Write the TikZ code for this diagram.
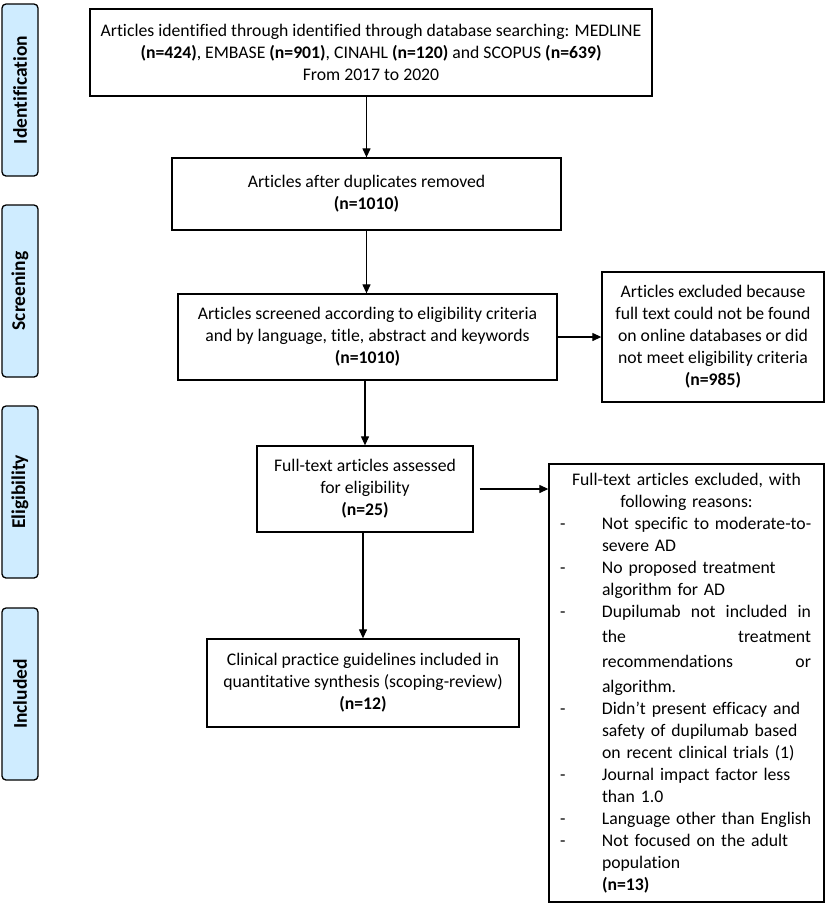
\documentclass[tikz,border=0pt]{standalone}
\usepackage{fontspec}
\setmainfont{Carlito}[Ligatures=NoCommon]
\usetikzlibrary{arrows.meta}
\definecolor{phaseblue}{RGB}{207,236,255}
\newcommand{\xitem}[1]{\par\hangindent=44pt\hangafter=1\noindent\makebox[44pt][l]{\hspace{2pt}-}#1}
\newcommand{\nlx}{\vadjust{\vskip3pt}\hfil\break}
\begin{document}
\begin{tikzpicture}[x=1pt,y=-1pt,
  basebox/.style={draw=black, line width=1.3pt, fill=white, inner sep=0pt,
    font=\fontsize{17.7}{22}\selectfont},
  box/.style={basebox, align=center},
  phase/.style={draw=black, line width=1.3pt, rounded corners=4pt, fill=phaseblue,
    minimum width=172pt, minimum height=36pt, rotate=90, inner sep=0pt,
    font=\bfseries\fontsize{19.5}{22}\selectfont},
  arr/.style={line width=1.2pt, -{Triangle[length=9pt,width=8pt]}}]
\useasboundingbox (0,0) rectangle (829,906);

% phase labels
\node[phase] (pid) at (20,90) {Identification};
\node[phase] (psc) at (20,291) {Screening};
\node[phase] (pel) at (20,492) {Eligibility};
\node[phase] (pin) at (20,694) {Included};

% boxes
\node[box, minimum width=562pt, minimum height=87pt] (top) at (371,52.5)
  {Articles identified through identified through database searching: MEDLINE\\
   \textbf{(n=424)}, EMBASE \textbf{(n=901)}, CINAHL \textbf{(n=120)} and SCOPUS \textbf{(n=639)}\\
   From 2017 to 2020};
\node[box, minimum width=389pt, minimum height=72pt] (dup) at (366.5,194)
  {Articles after duplicates removed\\ \textbf{(n=1010)}};
\node[box, minimum width=379pt, minimum height=86pt] (scr) at (367.5,337)
  {Articles screened according to eligibility criteria\\
   and by language, title, abstract and keywords\\ \textbf{(n=1010)}};
\node[box, minimum width=222pt, minimum height=130pt] (exa) at (713,337)
  {Articles excluded because\\ full text could not be found\\ on online databases or did\\
   not meet eligibility criteria\\ \textbf{(n=985)}};
\node[box, minimum width=216pt, minimum height=86pt] (full) at (365,489)
  {Full-text articles assessed\\ for eligibility\\ \textbf{(n=25)}};
\node[box, minimum width=312pt, minimum height=88pt] (incl) at (363,683)
  {Clinical practice guidelines included in\\ quantitative synthesis (scoping-review)\\ \textbf{(n=12)}};
\node[basebox, minimum width=275pt, minimum height=438pt, text width=257pt] (exb) at (686.5,683)
  {{\centering Full-text articles excluded, with\\ following reasons:\par}
   \raggedright
   \xitem{Not specific to moderate-to-\newline severe AD}
   \xitem{No proposed treatment\newline algorithm for AD}
   \xitem{\makebox[209pt][s]{Dupilumab\hfill not\hfill included\hfill in}\nlx
          \makebox[209pt][s]{the\hfill treatment}\nlx
          \makebox[209pt][s]{recommendations\hfill or}\nlx
          algorithm.}
   \xitem{Didn’t present efficacy and\newline safety of dupilumab based\newline on recent clinical trials (1)}
   \xitem{Journal impact factor less\newline than 1.0}
   \xitem{Language other than English}
   \xitem{Not focused on the adult\newline population\newline \textbf{(n=13)}}\par};

% connectors
\draw[arr] (dup.north |- top.south) -- (dup.north);
\draw[arr] (dup.south) -- (dup.south |- scr.north);
\draw[arr] (scr.east) -- (exa.west);
\draw[arr] (full.north |- scr.south) -- (full.north);
\draw[arr, shorten <=6pt] (full.east) -- (full.east -| exb.west);
\draw[arr] (incl.north |- full.south) -- (incl.north);
\end{tikzpicture}
\end{document}
